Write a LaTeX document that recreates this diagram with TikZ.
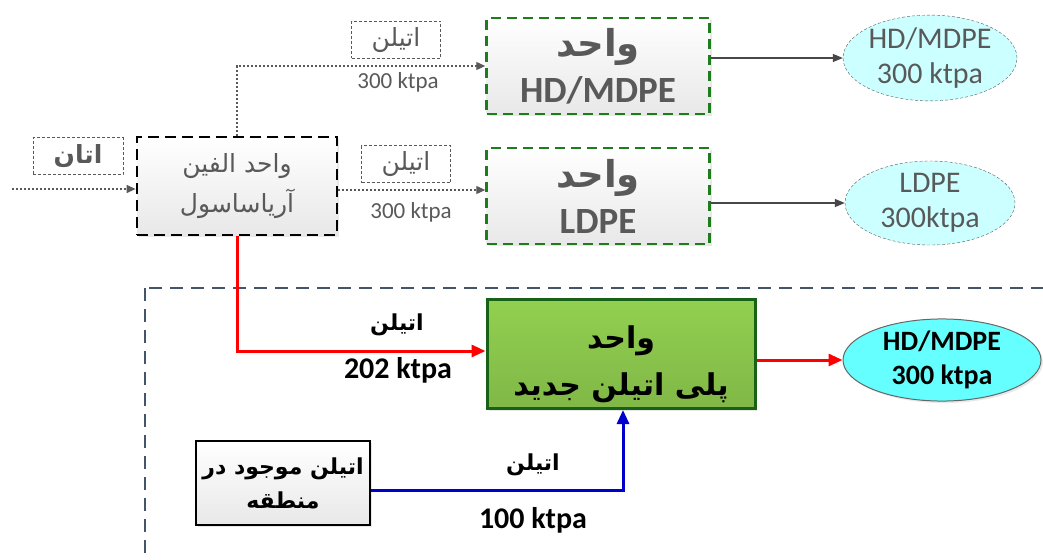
\documentclass[tikz,border=0pt]{standalone}
\usepackage{fontspec}
\setmainfont{Carlito}
\newfontfamily\arabicfont[Script=Arabic]{DejaVu Sans}
\TeXXeTstate=1
\usetikzlibrary{positioning,shapes.geometric,arrows.meta,shadows}
\newcommand{\fa}[1]{{\arabicfont\beginR #1\endR}}
\definecolor{txtgray}{HTML}{595959}
\definecolor{unitgreen}{HTML}{1E7B1E}
\definecolor{fillgreen}{HTML}{92D050}
\definecolor{frameslate}{HTML}{44546A}
\definecolor{palecyan}{HTML}{CCFFFF}
\definecolor{brightcyan}{HTML}{66FFFF}
\tikzset{
  graybox/.style={top color=white, bottom color=gray!18, drop shadow={shadow xshift=2pt, shadow yshift=-2pt, fill=gray!35}},
  olefinbox/.style={graybox, draw=black, line width=2.8pt, dash pattern=on 11pt off 6pt, minimum width=200pt, minimum height=98pt, align=center, text=txtgray, font=\fontsize{25}{40}\selectfont},
  unitbox/.style={graybox, draw=unitgreen, line width=2.5pt, dash pattern=on 10pt off 6pt, minimum width=223pt, minimum height=96pt, align=center, text=txtgray, font=\fontsize{37}{46}\selectfont\bfseries},
  tagbox/.style={draw=txtgray, line width=0.8pt, dash pattern=on 3pt off 2pt, minimum width=89pt, minimum height=37pt, inner sep=0pt, text=txtgray, font=\fontsize{25}{28}\selectfont},
  prodpale/.style={ellipse, draw=txtgray, dash pattern=on 3pt off 2pt, fill=palecyan, minimum width=170pt, minimum height=84pt, inner sep=0pt, align=center, text=txtgray, font=\fontsize{30}{35}\selectfont},
  feedline/.style={txtgray, line width=1.3pt, dash pattern=on 2pt off 2pt, -{Triangle[length=9pt,width=8pt]}},
  outline/.style={txtgray!80!black, line width=1.3pt, -{Triangle[length=10pt,width=8pt]}},
  bigtip/.style={line width=3pt, -{Triangle[length=14pt,width=12pt]}},
  rate/.style={text=txtgray, font=\fontsize{23}{26}\selectfont},
  boldrate/.style={font=\fontsize{30}{34}\selectfont\bfseries},
  boldtag/.style={font=\fontsize{22}{26}\selectfont\bfseries}
}
\begin{document}
\begin{tikzpicture}[x=1pt, y=-1pt]
  \useasboundingbox (0,0) rectangle (1043,559);
  % region of the new plant
  \draw[frameslate, line width=2.5pt, dash pattern=on 13pt off 8pt] (145,288) rectangle (1070,600);

  % existing complex
  \node[olefinbox] (olefin) at (237,186) {\fa{واحد الفین}\\\fa{آریاساسول}};
  \node[tagbox, minimum width=90pt, font=\fontsize{25}{28}\selectfont\bfseries] (ethane) at (78,156) {\fa{اتان}};
  \coordinate (feed) at (12,189);
  \draw[feedline] (feed) -- (feed -| olefin.west);

  \node[unitbox] (hdUnit) at (598,66) {\fa{واحد}\\HD/MDPE};
  \node[unitbox] (ldpeUnit) at (598,196) {\fa{واحد}\\LDPE};
  \node[prodpale] (hdProd) at (930,58) {HD/MDPE\\300 ktpa};
  \node[prodpale] (ldpeProd) at (930,203) {LDPE\\300ktpa};

  \draw[feedline] (olefin.north) |- (hdUnit.west);
  \draw[feedline] (olefin.east |- 0,190) -- (ldpeUnit.west |- 0,190);
  \draw[outline] (hdUnit.east |- hdProd) -- (hdProd.west);
  \draw[outline] (ldpeUnit.east |- ldpeProd) -- (ldpeProd.west);

  \node[tagbox] (ethTagA) at (396,40) {\fa{اتیلن}};
  \node[rate] (rateA) at (398,82) {300 ktpa};
  \node[tagbox] (ethTagB) at (406,164) {\fa{اتیلن}};
  \node[rate] (rateB) at (411,212) {300 ktpa};

  % new polyethylene unit
  \node[draw=unitgreen!80!black, line width=3pt, top color=fillgreen, bottom color=fillgreen!88!black,
        drop shadow={shadow xshift=2pt, shadow yshift=-2pt, fill=gray!35},
        minimum width=268pt, minimum height=109pt, align=center,
        font=\fontsize{30}{47}\selectfont\bfseries] (newUnit) at (621,354) {\rule{0pt}{44pt}\fa{واحد}\\\fa{پلی اتیلن جدید}};
  \node[ellipse, draw=gray!80!black, line width=1pt, fill=brightcyan, minimum width=198pt, minimum height=82pt, inner sep=0pt, align=center,
        drop shadow={shadow xshift=2pt, shadow yshift=-2pt, fill=gray!35},
        font=\fontsize{28}{34}\selectfont\bfseries] (newProd) at (942,360) {HD/MDPE\\300 ktpa};
  \node[draw=black, line width=1.8pt, graybox, minimum width=174pt, minimum height=84pt, inner xsep=2pt, align=center,
        font=\fontsize{22}{34}\selectfont\bfseries] (localEth) at (283,483) {\fa{اتیلن موجود در}\\\fa{منطقه}};

  \draw[red, bigtip] (olefin.south) |- (newUnit.west |- 0,351);
  \draw[red, bigtip] (newUnit.east |- newProd) -- (newProd.west);
  \draw[blue!80!black, bigtip] (localEth.east |- 0,490) -| (newUnit.south -| 623,0);

  \node[boldtag] (ethRed) at (397,325) {\fa{اتیلن}};
  \node[boldrate] (rateRed) at (398,370) {202 ktpa};
  \node[boldtag] (ethBlue) at (533,465) {\fa{اتیلن}};
  \node[boldrate] (rateBlue) at (533,520) {100 ktpa};
\end{tikzpicture}
\end{document}
